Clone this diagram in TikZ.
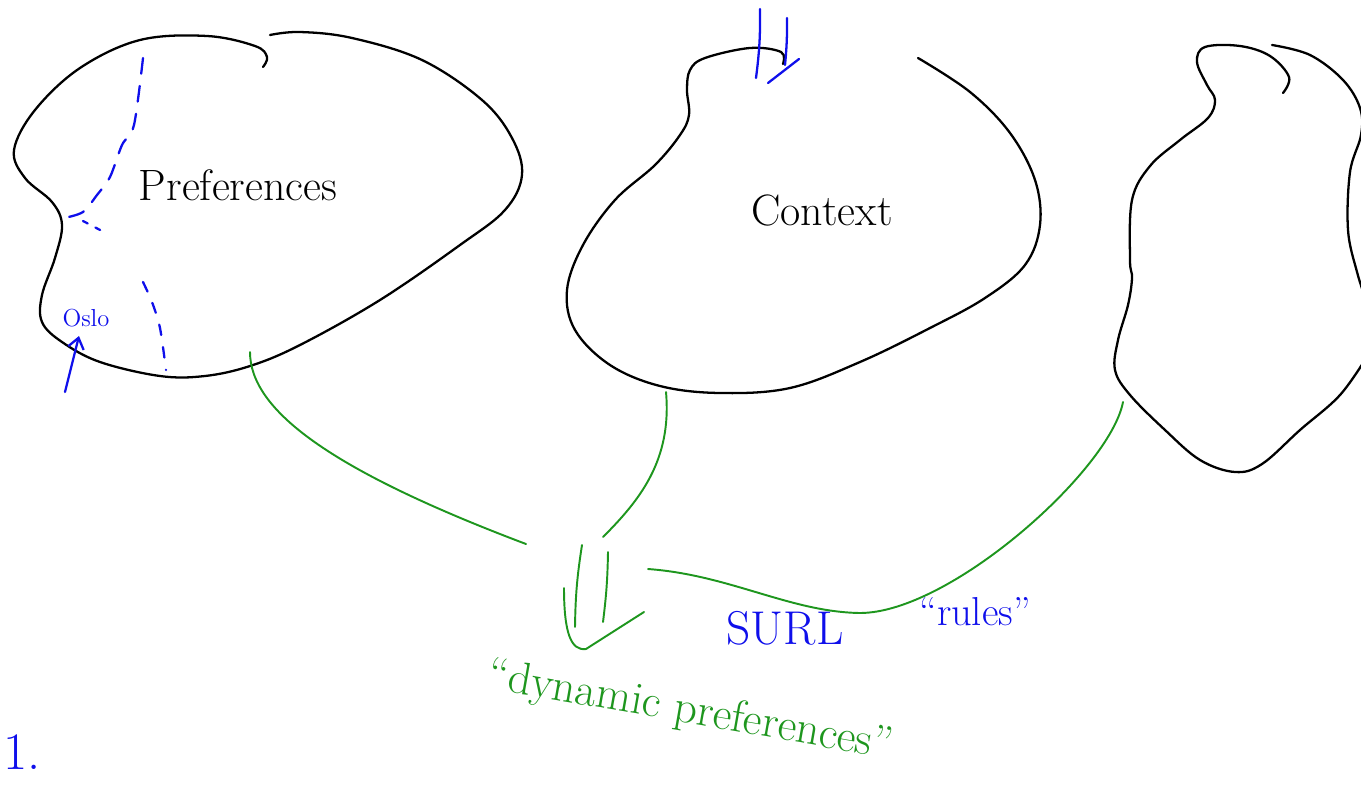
\documentclass[tikz,border=0pt]{standalone}
\usepackage{fontspec}
\usetikzlibrary{arrows.meta}
\definecolor{penblue}{RGB}{15,15,235}
\definecolor{pengreen}{RGB}{30,150,30}

\begin{document}
\begin{tikzpicture}[x=0.02cm, y=-0.02cm,
  every node/.style = {inner sep=0pt, align=center},
  outline/.style = {draw=black, line width=1.3pt, line cap=round, line join=round},
  flow/.style = {draw=pengreen, line width=1.1pt, line cap=round, line join=round},
  note/.style = {draw=penblue, line width=1.3pt, line cap=round, line join=round},
  bigtext/.style = {font=\fontsize{25}{28}\selectfont}]
  \useasboundingbox (0,0) rectangle (1361,784);
  \clip (0,0) rectangle (1361,784);

  % the three areas
  \draw[outline] plot[smooth, tension=0.6] coordinates {(263,67) (267,57) (255,46) (207,36)
    (140,40) (80,68) (35,110) (14,150) (25,178) (52,202) (62,225) (55,258) (42,295)
    (42,322) (62,342) (100,362) (160,376) (205,376) (250,366) (300,345) (380,300)
    (460,245) (505,210) (522,175) (512,138) (482,100) (422,60) (352,38) (300,32) (270,35)};
  \draw[outline] plot[smooth, tension=0.6] coordinates {(783,64) (781,52) (750,48) (705,58)
    (690,70) (687,90) (689,115) (680,135) (655,165) (615,200) (583,245) (567,290)
    (575,330) (610,365) (660,386) (720,393) (790,388) (860,362) (930,328) (985,298)
    (1025,265) (1040,225) (1035,180) (1010,133) (970,92) (918,58)};
  \draw[outline] plot[smooth, tension=0.6] coordinates {(1283,93) (1289,77) (1270,56)
    (1240,46) (1205,47) (1197,62) (1207,85) (1215,100) (1208,118) (1180,140) (1150,166)
    (1132,200) (1130,260) (1132,278) (1128,305) (1118,340) (1115,370) (1130,395)
    (1165,430) (1200,460) (1235,472) (1262,464) (1300,430) (1340,395) (1368,355)};
  \draw[outline] plot[smooth, tension=0.6] coordinates {(1272,45) (1310,55) (1343,80)
    (1360,108) (1361,135) (1350,172) (1348,230) (1357,272) (1366,300)};

  % labels
  \node[bigtext] (pref) at (238,185) {Preferences};
  \node[bigtext] (ctx) at (822,210) {Context};
  \node[text=penblue, font=\fontsize{14}{16}\selectfont] (oslo) at (86,318) {Oslo};
  \node[text=penblue, font=\fontsize{27}{30}\selectfont] (surl) at (785,628) {SURL};
  \node[text=penblue, font=\fontsize{23}{26}\selectfont] (rules) at (975,612) {``rules''};
  \node[text=pengreen, font=\fontsize{26}{29}\selectfont, rotate=-10] (dynpref)
    at (690,712) {``dynamic preferences''};
  \node[text=penblue, font=\fontsize{30}{32}\selectfont] (num) at (22,752) {1.};

  % ends of the connectors
  \coordinate (prefout) at (250,352);
  \coordinate (ctxout) at (666,392);
  \coordinate (rulesout) at (1123,402);
  \coordinate (prefend) at (526,544);
  \coordinate (ctxend) at (603,537);
  \coordinate (rulesend) at (648,569);
  \coordinate (dyntip) at (586,649);
  \coordinate (ctxtip) at (768,83);
  \coordinate (oslotail) at (65,392);
  \coordinate (oslotip) at (79,336);

  % green flows
  \draw[flow] (prefout) .. controls (250,410) and (330,470) .. (prefend);
  \draw[flow] (ctxout) .. controls (672,460) and (640,500) .. (ctxend);
  \draw[flow] (rulesend) .. controls (730,575) and (790,612) .. (860,613)
    .. controls (950,613) and (1110,470) .. (rulesout);
  % hand drawn double arrow down
  \draw[flow] (dyntip) ++(-4,-104) to[bend right=4] ++(-7,82);
  \draw[flow] (dyntip) ++(22,-97) to[bend left=3] ++(-5,70);
  \draw[flow] (dyntip) ++(-22,-61) .. controls +(0,45) and +(-15,2) .. (dyntip) -- ++(58,-37);

  % blue marks
  \draw[note] (ctxtip) ++(-8,-74) to[bend left=4] ++(-4,69);
  \draw[note] (ctxtip) ++(19,-65) to[bend left=3] ++(-2,47);
  \draw[note] (ctxtip) -- ++(31,-24);
  \draw[note, -{Straight Barb[length=6pt, width=9pt]}] (oslotail) -- (oslotip);
  \draw[note, dash pattern=on 9pt off 7pt] plot[smooth] coordinates {(143,58) (134,125)
    (122,145) (110,177) (97,195) (83,212) (64,218)};
  \draw[note, dash pattern=on 3pt off 5pt] (83,221) -- (102,231);
  \draw[note, dash pattern=on 6pt off 7pt] plot[smooth] coordinates {(143,282) (152,302)
    (160,328) (166,370)};
\end{tikzpicture}
\end{document}
